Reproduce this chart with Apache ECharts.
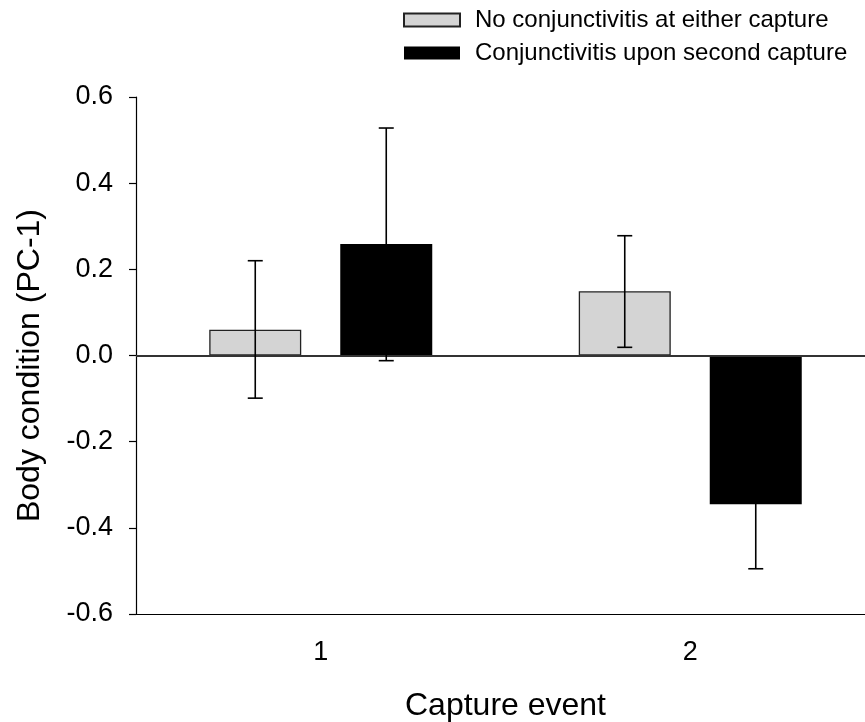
<!DOCTYPE html>
<html>
<head>
<meta charset="utf-8">
<script src="https://cdn.jsdelivr.net/npm/echarts@6/dist/echarts.min.js"></script>
<style>
    html, body { margin: 0; padding: 0; background: #fff; }
    #chart { width: 865px; height: 722px; }
</style>
</head>
<body>
<div id="chart"></div>
<script>
// capture events on the x axis
var categories = ['1', '2'];

// no conjunctivitis at either capture (mean, error range)
var noConj = [0.06, 0.149];
var noConjLow = [-0.099, 0.019];
var noConjHigh = [0.22, 0.278];

// conjunctivitis upon second capture
var conj = [0.259, -0.345];
var conjLow = [-0.012, -0.495];
var conjHigh = [0.528, -0.195];

var yMin = -0.6, yMax = 0.6, yStep = 0.2;

var FONT = 'Liberation Sans, Arial, sans-serif';
var BAR_W = 92;
var BAR_GAP = 39;
var OFFSET = (BAR_W + BAR_GAP) / 2;

function errData(low, high) {
    return categories.map(function (c, i) { return [i, low[i], high[i]]; });
}

// draws the whisker with caps, shifted to sit on its bar
function errorBar(shift) {
    return function (params, api) {
        var lo = api.coord([api.value(0), api.value(1)]);
        var hi = api.coord([api.value(0), api.value(2)]);
        var x = lo[0] + shift;
        var cap = 7.5;
        var st = { stroke: '#000', lineWidth: 1.6 };
        return {
            type: 'group',
            children: [
                { type: 'line', shape: { x1: x, y1: hi[1], x2: x, y2: lo[1] }, style: st },
                { type: 'line', shape: { x1: x - cap, y1: hi[1], x2: x + cap, y2: hi[1] }, style: st },
                { type: 'line', shape: { x1: x - cap, y1: lo[1], x2: x + cap, y2: lo[1] }, style: st }
            ]
        };
    };
}

var myChart = echarts.init(document.getElementById('chart'));

var option = {
    animation: false,
    backgroundColor: '#fff',
    textStyle: { fontFamily: FONT },
    legend: {
        orient: 'vertical',
        left: 398,
        top: 3,
        icon: 'rect',
        itemWidth: 56,
        itemHeight: 13,
        itemGap: 9,
        data: ['No conjunctivitis at either capture', 'Conjunctivitis upon second capture'],
        textStyle: { fontSize: 24, color: '#000', fontFamily: FONT, padding: [0, 0, 0, 10] }
    },
    grid: {
        left: 136,
        top: 97,
        width: 739,
        height: 517,
        containLabel: false,
        outerBoundsMode: 'none'
    },
    xAxis: {
        type: 'category',
        data: categories,
        name: 'Capture event',
        nameLocation: 'middle',
        nameGap: 76,
        nameTextStyle: { fontSize: 32, color: '#000', fontFamily: FONT },
        axisLine: { onZero: false, lineStyle: { color: '#000', width: 1.2 } },
        axisTick: { alignWithLabel: true, length: 7, lineStyle: { color: '#000', width: 1.2 } },
        axisLabel: { fontSize: 27, color: '#000', margin: 25, fontFamily: FONT },
        splitLine: { show: false }
    },
    yAxis: {
        type: 'value',
        min: yMin,
        max: yMax,
        interval: yStep,
        name: 'Body condition (PC-1)',
        nameLocation: 'middle',
        nameGap: 90,
        nameTextStyle: { fontSize: 32, color: '#000', fontFamily: FONT, padding: [0, 20, 0, 0] },
        axisLine: { show: true, onZero: false, lineStyle: { color: '#000', width: 1.2 } },
        axisTick: { show: true, length: 7, lineStyle: { color: '#000', width: 1.2 } },
        axisLabel: {
            fontSize: 27, color: '#000', margin: 23, fontFamily: FONT,
            formatter: function (v) { return v.toFixed(1); }
        },
        splitLine: { show: false }
    },
    series: [
        {
            name: 'No conjunctivitis at either capture',
            type: 'bar',
            data: noConj,
            barWidth: BAR_W,
            barGap: (BAR_GAP / BAR_W * 100) + '%',
            itemStyle: { color: '#d4d4d4', borderColor: '#222', borderWidth: 1.3 },
            markLine: {
                silent: true,
                symbol: 'none',
                label: { show: false },
                lineStyle: { color: '#333', width: 2, type: 'solid' },
                data: [{ yAxis: 0 }]
            }
        },
        {
            name: 'Conjunctivitis upon second capture',
            type: 'bar',
            data: conj,
            barWidth: BAR_W,
            itemStyle: { color: '#000', borderColor: '#000', borderWidth: 0 }
        },
        {
            type: 'custom',
            z: 5,
            silent: true,
            renderItem: errorBar(-OFFSET),
            data: errData(noConjLow, noConjHigh)
        },
        {
            type: 'custom',
            z: 5,
            silent: true,
            renderItem: errorBar(OFFSET),
            data: errData(conjLow, conjHigh)
        }
    ]
};

myChart.setOption(option);
</script>
</body>
</html>
